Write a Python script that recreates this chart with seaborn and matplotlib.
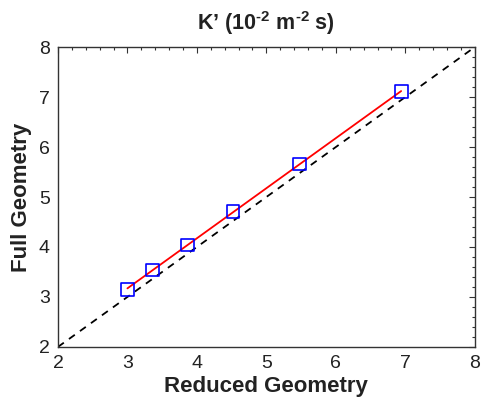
import numpy as np
import pandas as pd
import matplotlib
matplotlib.use("Agg")
import matplotlib.pyplot as plt
from matplotlib.ticker import MultipleLocator
import seaborn as sns

# K' values computed with the reduced and the full geometry
reduced = [3.00, 3.36, 3.86, 4.52, 5.48, 6.94]
full = [3.15, 3.54, 4.04, 4.71, 5.66, 7.11]
ticks = [2, 3, 4, 5, 6, 7, 8]

df = pd.DataFrame({"Reduced Geometry": reduced, "Full Geometry": full})

sns.set_style("white")
plt.rcParams["font.family"] = ["Liberation Sans", "DejaVu Sans"]
plt.rcParams["mathtext.fontset"] = "custom"
plt.rcParams["mathtext.rm"] = "Liberation Sans"
plt.rcParams["mathtext.bf"] = "Liberation Sans:bold"

fig = plt.figure(figsize=(4.83, 4.13), dpi=100)
ax = fig.add_axes([0.120, 0.160, 0.863, 0.726])

# identity line
ax.plot([ticks[0], ticks[-1]], [ticks[0], ticks[-1]], color="black",
        linestyle=(0, (4, 3.5)), linewidth=1.3, zorder=1)

# linear fit across the data range
sns.regplot(data=df, x="Reduced Geometry", y="Full Geometry", ax=ax,
            ci=None, scatter=False, truncate=True,
            line_kws={"color": "red", "linewidth": 1.3, "zorder": 2})

# data points
sns.scatterplot(data=df, x="Reduced Geometry", y="Full Geometry", ax=ax,
                marker="s", s=85, facecolor="none", edgecolor="blue",
                linewidth=1.2, zorder=3)

ax.set_xlim(ticks[0], ticks[-1])
ax.set_ylim(ticks[0], ticks[-1])
ax.set_xticks(ticks)
ax.set_yticks(ticks)
ax.xaxis.set_minor_locator(MultipleLocator(0.2))
ax.yaxis.set_minor_locator(MultipleLocator(0.2))
ax.tick_params(which="both", direction="in", top=True, right=True,
               color="#333333", width=0.8)
ax.tick_params(which="major", length=4, labelsize=14, colors="#333333",
               labelcolor="#222222", pad=6)
ax.tick_params(which="minor", length=2)
for s in ax.spines.values():
    s.set_color("#333333")
    s.set_linewidth(1.0)

ax.set_xlabel("Reduced Geometry", fontsize=16, fontweight="bold",
              color="#222222", labelpad=3)
ax.set_ylabel("Full Geometry", fontsize=16, fontweight="bold",
              color="#222222", labelpad=5)
ax.set_title("K’ (10$^{\\mathbf{‐2}}$ m$^{\\mathbf{‐2}}$ s)", fontsize=15.5,
             fontweight="bold", color="#222222", pad=12)

fig.savefig("out.png", dpi=100)
